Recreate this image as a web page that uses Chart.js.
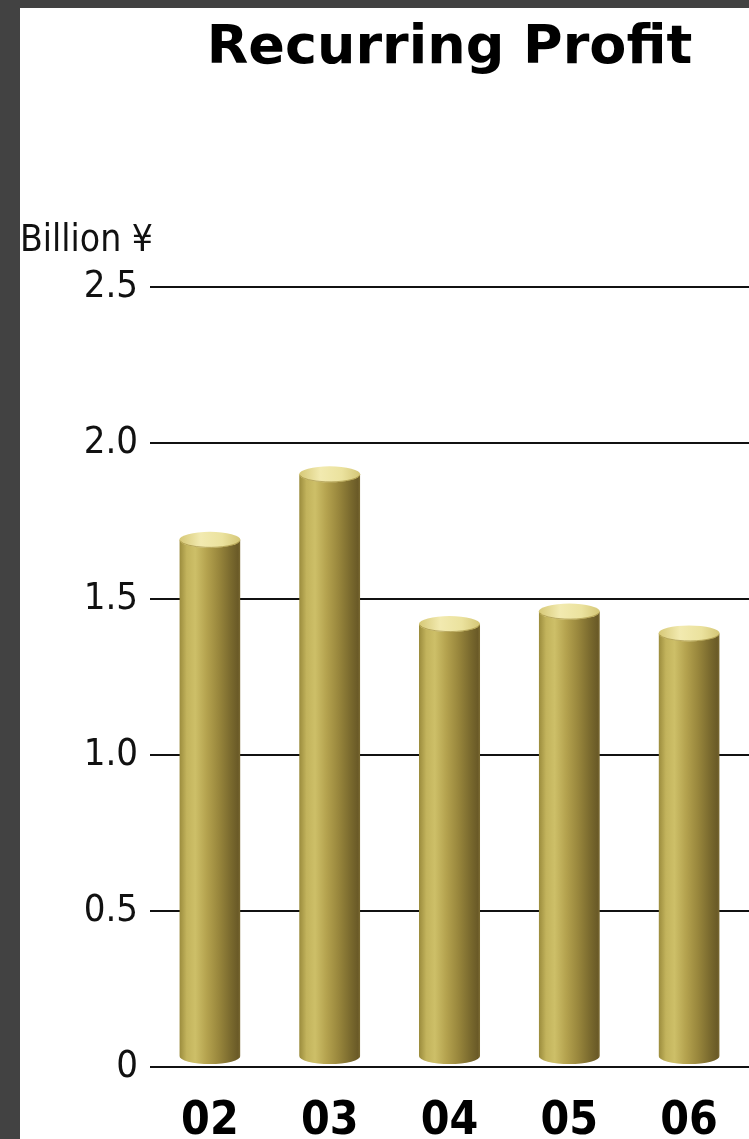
<!DOCTYPE html>
<html>
<head>
<meta charset="utf-8">
<script src="https://cdn.jsdelivr.net/npm/chart.js@4.4.1/dist/chart.umd.min.js"></script>
<style>
  html, body { margin: 0; padding: 0; background: #424242; }
  #wrap { position: absolute; left: 20px; top: 8px; width: 729px; height: 1131px; background: #fff; }
</style>
</head>
<body>
<div id="wrap"><canvas id="profitChart" width="729" height="1131"></canvas></div>
<script>
// data
const years = ['02', '03', '04', '05', '06'];
const profit = [1.69, 1.90, 1.42, 1.46, 1.39];
const yMin = 0;
const yMax = 2.5;
const yStep = 0.5;

const narrow = '"Liberation Sans Narrow", "Arial Narrow", "DejaVu Sans Condensed", sans-serif';
const barPct = 0.51;
const capRy = 8;

// horizontal shading of the cylinder body
function bodyGradient(ctx, x0, x1) {
    const g = ctx.createLinearGradient(x0, 0, x1, 0);
    g.addColorStop(0, '#9a8b3c');
    g.addColorStop(0.12, '#c2b35c');
    g.addColorStop(0.26, '#cdbf68');
    g.addColorStop(0.45, '#b4a24e');
    g.addColorStop(0.65, '#98863c');
    g.addColorStop(0.84, '#7a6a2e');
    g.addColorStop(0.96, '#6a5a27');
    g.addColorStop(1, '#7c6b32');
    return g;
}

function capGradient(ctx, x0, x1) {
    const g = ctx.createLinearGradient(x0, 0, x1, 0);
    g.addColorStop(0, '#d6c876');
    g.addColorStop(0.35, '#f2eab0');
    g.addColorStop(0.7, '#ebe29e');
    g.addColorStop(1, '#d4c676');
    return g;
}

// round bottoms + top caps
const cylinderPlugin = {
    id: 'cylinders',
    beforeDatasetDraw(chart, args) {
        const ctx = chart.ctx;
        ctx.save();
        ctx.beginPath();
        args.meta.data.forEach(bar => {
            const p = bar.getProps(['x', 'y', 'base', 'width'], true);
            const rx = p.width / 2;
            const cy = p.base - capRy - 2;
            ctx.rect(p.x - rx, p.y, p.width, cy - p.y);
            ctx.moveTo(p.x + rx, cy);
            ctx.ellipse(p.x, cy, rx, capRy, 0, 0, Math.PI * 2);
        });
        ctx.clip();
    },
    afterDatasetDraw(chart, args) {
        const ctx = chart.ctx;
        ctx.restore();
        args.meta.data.forEach(bar => {
            const p = bar.getProps(['x', 'y', 'width'], true);
            const rx = p.width / 2;
            ctx.save();
            ctx.beginPath();
            ctx.ellipse(p.x, p.y, rx, capRy, 0, 0, Math.PI * 2);
            ctx.fillStyle = capGradient(ctx, p.x - rx, p.x + rx);
            ctx.fill();
            ctx.beginPath();
            ctx.ellipse(p.x, p.y, rx - 0.5, capRy - 0.5, 0, 0.15, Math.PI - 0.15);
            ctx.strokeStyle = 'rgba(150,130,50,0.6)';
            ctx.lineWidth = 1;
            ctx.stroke();
            ctx.restore();
        });
    }
};

const ctx = document.getElementById('profitChart').getContext('2d');
new Chart(ctx, {
    type: 'bar',
    data: {
        labels: years,
        datasets: [{
            data: profit,
            backgroundColor: (c) => {
                const xs = c.chart.scales.x;
                if (!xs || c.dataIndex === undefined) return '#b3a14c';
                const cx = xs.getPixelForValue(c.dataIndex);
                const half = xs.width / years.length * barPct / 2;
                if (!isFinite(cx) || !isFinite(half) || half <= 0) return '#b3a14c';
                return bodyGradient(c.chart.ctx, cx - half, cx + half);
            },
            borderWidth: 0,
            barPercentage: 1,
            categoryPercentage: barPct
        }]
    },
    options: {
        responsive: false,
        animation: false,
        layout: { padding: 0 },
        plugins: {
            legend: { display: false },
            tooltip: { enabled: false },
            title: {
                display: true,
                text: 'Recurring Profit',
                fullSize: false,
                color: '#000',
                font: { family: '"DejaVu Sans", sans-serif', size: 54, weight: 'bold' },
                padding: { top: 9, bottom: 46 }
            },
            subtitle: {
                display: true,
                text: 'Billion ¥',
                align: 'start',
                color: '#111',
                font: { family: narrow, size: 37 },
                padding: { top: 91, bottom: 24 }
            }
        },
        scales: {
            x: {
                grid: { display: false, drawTicks: false },
                border: { display: false },
                ticks: {
                    color: '#000',
                    padding: 27,
                    font: { family: narrow, size: 46, weight: 'bold' }
                },
                afterFit(scale) { scale.height = 72; }
            },
            y: {
                min: yMin,
                max: yMax,
                border: { display: false },
                grid: { color: '#111', lineWidth: 2, drawTicks: false },
                ticks: {
                    stepSize: yStep,
                    color: '#111',
                    padding: 12,
                    font: { family: narrow, size: 38 },
                    callback: (v) => v === 0 ? '0' : v.toFixed(1)
                },
                afterFit(scale) { scale.width = 130; }
            }
        }
    },
    plugins: [cylinderPlugin]
});
</script>
</body>
</html>
